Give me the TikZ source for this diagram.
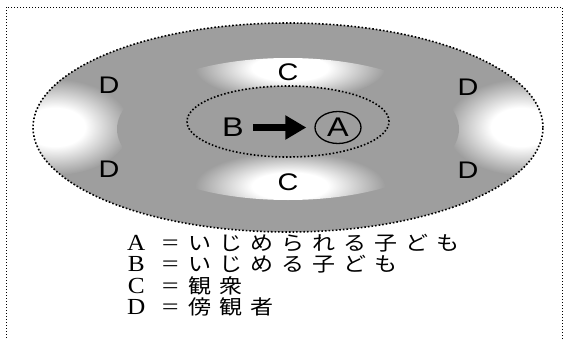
\documentclass[tikz,border=0pt]{standalone}
\usepackage{fontspec}
\usepackage{graphicx}
\setmainfont{Liberation Serif}
\setsansfont{Liberation Sans}
\newfontfamily\jpfont{Noto Sans CJK JP}
\usetikzlibrary{arrows.meta,shapes.geometric}
\definecolor{halftone}{gray}{0.62}
\pgfdeclareradialshading{blob}{\pgfpoint{0bp}{0bp}}{color(0bp)=(white); color(10bp)=(white); color(25bp)=(halftone); color(50bp)=(halftone)}
\newcommand\widen[1]{\scalebox{1.2}[1]{#1}}
\newcommand\jpspaced[1]{\jpspacedaux#1\relax}
\def\jpspacedaux#1{\ifx\relax#1\else\hbox to 31pt{\scalebox{1.15}[1]{#1}\hss}\expandafter\jpspacedaux\fi}
\newcommand\legrow[2]{\hbox to 18pt{\hss\scalebox{1.1}[1]{#1}\hss}\hskip17pt\hbox to 16pt{\hss\scalebox{1.3}[1]{=}\hss}\hskip10pt{\jpfont\fontsize{20}{20}\selectfont\jpspaced{#2}}}
\tikzset{
  dlab/.style={inner sep=0pt, font=\sffamily\fontsize{24}{24}\selectfont},
  biglab/.style={inner sep=0pt, font=\sffamily\fontsize{27}{27}\selectfont},
  legend/.style={inner sep=0pt, anchor=base west, font=\rmfamily\fontsize{23}{23}\selectfont},
  dotborder/.style={draw=black, line width=1.6pt, dash pattern=on 1.6pt off 2pt},
  framebox/.style={draw=black, line width=1pt, dash pattern=on 1pt off 2pt},
}
\begin{document}
\begin{tikzpicture}[x=1pt,y=-1pt]
\useasboundingbox (0,0) rectangle (565,340);
% frame
\draw[framebox] (6,7) rectangle (562,360);
% outer ellipse
\begin{scope}
  \clip (288,127.5) ellipse [x radius=255pt, y radius=104.5pt];
  \fill[halftone] (288,127.5) ellipse [x radius=255pt, y radius=104.5pt];
  \shade[shading=blob] (55,127) ellipse [x radius=75pt, y radius=48pt];
  \shade[shading=blob] (521,127) ellipse [x radius=75pt, y radius=48pt];
  % middle ellipse
  \fill[halftone] (288,129) ellipse [x radius=171pt, y radius=71pt];
  \clip (288,129) ellipse [x radius=171pt, y radius=71pt];
  \shade[shading=blob] (290,68) ellipse [x radius=95pt, y radius=32pt];
  \shade[shading=blob] (290,186) ellipse [x radius=95pt, y radius=34pt];
\end{scope}
\draw[dotborder] (288,127.5) ellipse [x radius=255pt, y radius=104.5pt];
% inner ellipse
\fill[halftone] (288,121.5) ellipse [x radius=101pt, y radius=35.5pt];
\draw[dotborder] (288,121.5) ellipse [x radius=101pt, y radius=35.5pt];
% labels
\node[dlab] (d1) at (109,85) {\widen{D}};
\node[dlab] (d2) at (109,169) {\widen{D}};
\node[dlab] (d3) at (468,87) {\widen{D}};
\node[dlab] (d4) at (468,170) {\widen{D}};
\node[dlab] (c1) at (288,72) {\widen{C}};
\node[dlab] (c2) at (288,182) {\widen{C}};
\node[biglab] (B) at (233,127.5) {\widen{B}};
\node[biglab, draw, ellipse, line width=1.3pt, minimum width=46pt, minimum height=32pt] (A) at (338,127.5) {\widen{A}};
\draw[line width=7pt, -{Triangle[length=21pt,width=23pt]}, shorten <=9pt, shorten >=8pt] (B.east) -- (A.west);
% legend
\node[legend] (la) at (127,250) {\legrow{A}{いじめられる子ども}};
\node[legend] (lb) at (127,271.5) {\legrow{B}{いじめる子ども}};
\node[legend] (lc) at (127,293) {\legrow{C}{観衆}};
\node[legend] (ld) at (127,314.5) {\legrow{D}{傍観者}};
\end{tikzpicture}
\end{document}
